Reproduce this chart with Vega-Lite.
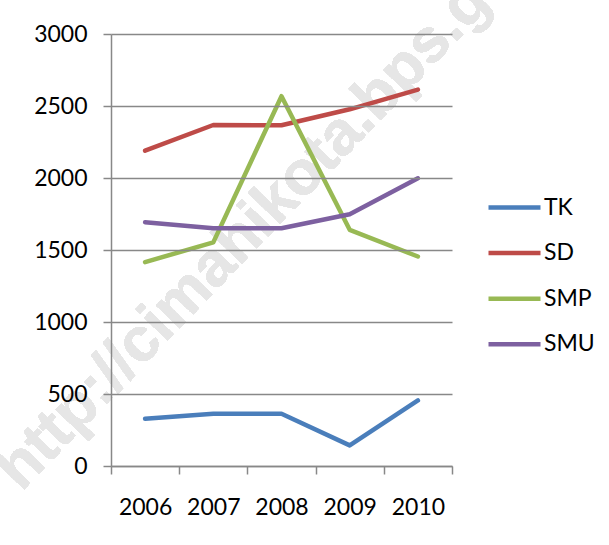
{
  "$schema": "https://vega.github.io/schema/vega-lite/v6.json",
  "autosize": "none",
  "width": 341,
  "height": 432,
  "padding": {"left": 111, "top": 34, "right": 157, "bottom": 79},
  "background": "white",
  "config": {
    "view": {"stroke": null},
    "font": "Lato",
    "axis": {
      "labelFont": "Lato",
      "labelFontSize": 23,
      "labelColor": "#000000",
      "domainColor": "#888888",
      "domainWidth": 1.5,
      "tickColor": "#888888",
      "tickWidth": 1.5,
      "gridColor": "#888888",
      "gridWidth": 1.5,
      "title": null
    }
  },
  "data": {
    "values": [
      {"year": "2006", "series": "TK", "value": 328},
      {"year": "2007", "series": "TK", "value": 363},
      {"year": "2008", "series": "TK", "value": 363},
      {"year": "2009", "series": "TK", "value": 143},
      {"year": "2010", "series": "TK", "value": 455},
      {"year": "2006", "series": "SD", "value": 2190},
      {"year": "2007", "series": "SD", "value": 2368},
      {"year": "2008", "series": "SD", "value": 2366},
      {"year": "2009", "series": "SD", "value": 2477},
      {"year": "2010", "series": "SD", "value": 2614},
      {"year": "2006", "series": "SMP", "value": 1416},
      {"year": "2007", "series": "SMP", "value": 1553},
      {"year": "2008", "series": "SMP", "value": 2568},
      {"year": "2009", "series": "SMP", "value": 1640},
      {"year": "2010", "series": "SMP", "value": 1455},
      {"year": "2006", "series": "SMU", "value": 1693},
      {"year": "2007", "series": "SMU", "value": 1651},
      {"year": "2008", "series": "SMU", "value": 1651},
      {"year": "2009", "series": "SMU", "value": 1748},
      {"year": "2010", "series": "SMU", "value": 1998}
    ]
  },
  "layer": [
    {
      "mark": {
        "type": "text",
        "text": "http://cimahikota.bps.go.id",
        "font": "Liberation Sans",
        "fontWeight": "bold",
        "fontSize": 62,
        "angle": -46,
        "align": "center",
        "baseline": "middle",
        "color": "#E6E6E6"
      },
      "encoding": {
        "x": {
          "datum": "2008",
          "type": "ordinal",
          "scale": {"type": "band", "paddingInner": 0, "paddingOuter": 0},
          "axis": {
            "labelAngle": 0,
            "tickBand": "extent",
            "tickSize": 8,
            "labelPadding": 22,
            "grid": false,
            "zindex": 1
          }
        },
        "y": {
          "datum": 1880,
          "type": "quantitative",
          "scale": {"domain": [0, 3000], "nice": false},
          "axis": {
            "values": [0, 500, 1000, 1500, 2000, 2500, 3000],
            "format": "d",
            "tickSize": 8,
            "labelPadding": 16,
            "grid": true,
            "zindex": 1
          }
        }
      }
    },
    {
      "mark": {"type": "line", "strokeWidth": 4.5, "strokeCap": "round", "strokeJoin": "round"},
      "encoding": {
        "x": {
          "field": "year",
          "type": "ordinal",
          "scale": {"type": "band", "paddingInner": 0, "paddingOuter": 0},
          "axis": {
            "labelAngle": 0,
            "tickBand": "extent",
            "tickSize": 8,
            "labelPadding": 22,
            "grid": false,
            "zindex": 1
          }
        },
        "y": {
          "field": "value",
          "type": "quantitative",
          "scale": {"domain": [0, 3000], "nice": false},
          "axis": {
            "values": [0, 500, 1000, 1500, 2000, 2500, 3000],
            "format": "d",
            "tickSize": 8,
            "labelPadding": 16,
            "grid": true,
            "zindex": 1
          }
        },
        "color": {
          "field": "series",
          "type": "nominal",
          "scale": {
            "domain": ["TK", "SD", "SMP", "SMU"],
            "range": ["#4A7EBB", "#BE4B48", "#98B954", "#7D60A0"]
          },
          "legend": {
            "title": null,
            "orient": "none",
            "legendX": 375,
            "legendY": 151,
            "padding": 0,
            "symbolType": "stroke",
            "symbolSize": 2704,
            "symbolStrokeWidth": 4.5,
            "clipHeight": 45,
            "rowPadding": 0.6,
            "labelOffset": 1,
            "labelFont": "Lato",
            "labelFontSize": 23,
            "labelColor": "#000000"
          }
        }
      }
    }
  ]
}
